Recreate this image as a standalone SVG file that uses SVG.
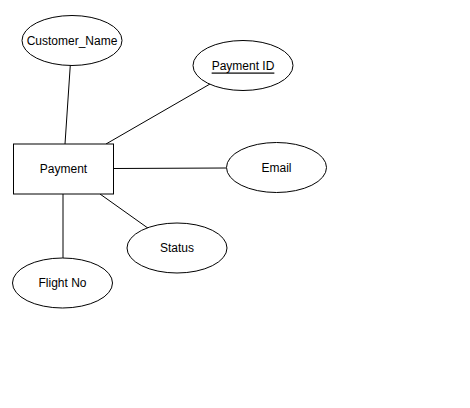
<svg xmlns="http://www.w3.org/2000/svg" width="470" height="408" viewBox="0 0 470 408">
<style>
.shape{fill:#fff;stroke:#000;stroke-width:1}
.edge{stroke:#000;stroke-width:1;fill:none}
text{font-family:"Liberation Sans",Arial,sans-serif;font-size:12px;fill:#000;text-anchor:middle;dominant-baseline:central}
</style>
<rect width="470" height="408" fill="#fff"/>
<g id="connectors">
<line class="edge" x1="70.3" y1="65" x2="65" y2="144"/>
<line class="edge" x1="210" y1="84" x2="106" y2="144"/>
<line class="edge" x1="113.5" y1="168.5" x2="226" y2="168"/>
<line class="edge" x1="100" y1="194" x2="148.5" y2="228.5"/>
<line class="edge" x1="63" y1="194" x2="63" y2="258"/>
</g>
<g id="customer_name"><ellipse class="shape" cx="72" cy="40.5" rx="50" ry="25"/><text x="72" y="40.5">Customer_Name</text></g>
<g id="payment_id"><ellipse class="shape" cx="243" cy="65.5" rx="50" ry="25"/><text x="243" y="65.5" text-decoration="underline">Payment ID</text></g>
<g id="payment"><rect class="shape" x="13.5" y="144" width="100" height="50"/><text x="63.5" y="169">Payment</text></g>
<g id="email"><ellipse class="shape" cx="276.5" cy="167.5" rx="50" ry="25"/><text x="276.5" y="167.5">Email</text></g>
<g id="status"><ellipse class="shape" cx="177" cy="248" rx="50" ry="25"/><text x="177" y="248">Status</text></g>
<g id="flight_no"><ellipse class="shape" cx="62.5" cy="283" rx="50" ry="25"/><text x="62.5" y="283">Flight No</text></g>
</svg>
